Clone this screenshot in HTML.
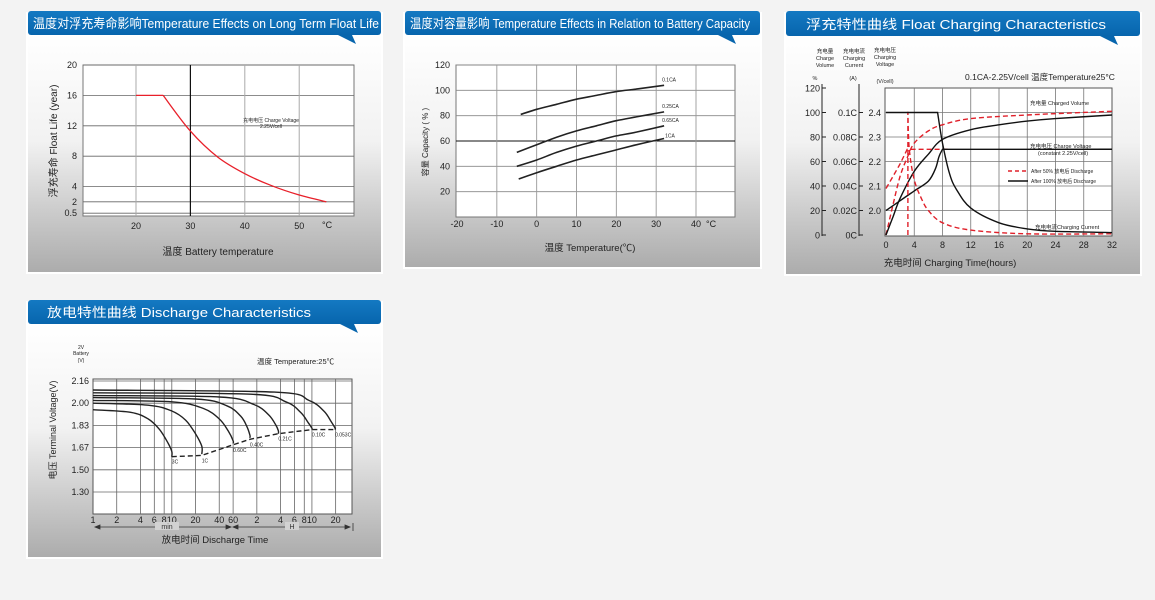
<!DOCTYPE html>
<html><head><meta charset="utf-8">
<style>
html,body{margin:0;padding:0;background:#f3f3f3;}
svg{display:block;font-family:"Liberation Sans","Noto Sans CJK SC",sans-serif;}
.tk{font-size:9px;fill:#222;}
.sm{font-size:5px;fill:#222;}
.hd{font-size:13px;fill:#fff;}
</style></head>
<body>
<svg id="root" width="1155" height="600" viewBox="0 0 1155 600" xmlns="http://www.w3.org/2000/svg">
<defs>
<linearGradient id="cardg" x1="0" y1="0" x2="0" y2="1">
<stop offset="0" stop-color="#ffffff"/><stop offset="0.45" stop-color="#f2f2f2"/><stop offset="0.75" stop-color="#cbcbcb"/><stop offset="1" stop-color="#acacac"/></linearGradient>
<linearGradient id="hdg" x1="0" y1="0" x2="0" y2="1">
<stop offset="0" stop-color="#1479c2"/><stop offset="1" stop-color="#0765ad"/></linearGradient>
</defs>
<!-- cards -->
<g>
<rect x="26" y="12" width="357" height="262" fill="#fff"/>
<rect x="28" y="34" width="353" height="238" fill="url(#cardg)"/>
<rect x="28" y="11" width="353" height="24" rx="3" fill="url(#hdg)"/>
<path d="M338,35 L352,35 L356,44 Z" fill="#0765ad"/>
<text class="hd" x="33" y="28" font-size="12" textLength="346" lengthAdjust="spacingAndGlyphs">温度对浮充寿命影响Temperature Effects on Long Term Float Life</text>
</g>
<g>
<rect x="403" y="12" width="359" height="257" fill="#fff"/>
<rect x="405" y="34" width="355" height="233" fill="url(#cardg)"/>
<rect x="405" y="11" width="355" height="24" rx="3" fill="url(#hdg)"/>
<path d="M718,35 L732,35 L736,44 Z" fill="#0765ad"/>
<text class="hd" x="410" y="28" font-size="12" textLength="340" lengthAdjust="spacingAndGlyphs">温度对容量影响 Temperature Effects in Relation to Battery Capacity</text>
</g>
<g>
<rect x="784" y="12" width="358" height="264" fill="#fff"/>
<rect x="786" y="34" width="354" height="240" fill="url(#cardg)"/>
<rect x="786" y="11" width="354" height="25" rx="3" fill="url(#hdg)"/>
<path d="M1100,36 L1114,36 L1118,45 Z" fill="#0765ad"/>
<text class="hd" x="806" y="29" font-size="14.5" textLength="300" lengthAdjust="spacingAndGlyphs">浮充特性曲线 Float Charging Characteristics</text>
</g>
<g>
<rect x="26" y="301" width="357" height="258" fill="#fff"/>
<rect x="28" y="323" width="353" height="234" fill="url(#cardg)"/>
<rect x="28" y="300" width="353" height="24" rx="3" fill="url(#hdg)"/>
<path d="M340,324 L354,324 L358,333 Z" fill="#0765ad"/>
<text class="hd" x="47" y="317" font-size="14.5" textLength="264" lengthAdjust="spacingAndGlyphs">放电特性曲线 Discharge Characteristics</text>
</g>

<g id="c1"></g>
<g id="c2"></g>
<g id="c3"></g>
<g id="c4"></g>

<!-- static titles -->
<text x="218" y="255" font-size="10" text-anchor="middle" fill="#222">温度  Battery temperature</text>
<text transform="translate(57,141) rotate(-90)" font-size="10" text-anchor="middle" fill="#222">浮充寿命  Float Life (year)</text>
<text x="271" y="122" class="sm" text-anchor="middle">充电电压 Charge Voltage</text>
<text x="271" y="128" class="sm" text-anchor="middle">2.25V/cell</text>
<text x="322" y="228" class="tk">°C</text>

<text x="590" y="251" font-size="9.5" text-anchor="middle" fill="#222">温度  Temperature(℃)</text>
<text transform="translate(428,142) rotate(-90)" font-size="8" text-anchor="middle" fill="#222">容量 Capacity ( % )</text>
<text x="706" y="227" class="tk">°C</text>

<text x="950" y="266" font-size="9.5" text-anchor="middle" fill="#222">充电时间 Charging Time(hours)</text>
<text x="965" y="80" font-size="8.5" fill="#222">0.1CA-2.25V/cell  温度Temperature25°C</text>
<g font-size="5.5" fill="#222" text-anchor="middle">
<text x="825" y="53">充电量</text><text x="825" y="60">Charge</text><text x="825" y="67">Volume</text><text x="815" y="80">%</text>
<text x="854" y="53">充电电流</text><text x="854" y="60">Charging</text><text x="854" y="67">Current</text><text x="853" y="80">(A)</text>
<text x="885" y="52">充电电压</text><text x="885" y="59">Charging</text><text x="885" y="66">Voltage</text><text x="885" y="83">(V/cell)</text>
</g>
<g font-size="5.5" fill="#222">
<text x="1030" y="105">充电量 Charged Volume</text>
<text x="1030" y="148">充电电压 Charge Voltage</text>
<text x="1038" y="155">(constant 2.25V/cell)</text>
<text x="1035" y="229">充电电流Charging Current</text>
</g>
<g>
<line x1="1008" y1="171" x2="1028" y2="171" stroke="#e0202a" stroke-width="1.4" stroke-dasharray="4,3"/>
<text x="1031" y="173" font-size="5" fill="#222">After 50% 放电后 Discharge</text>
<line x1="1008" y1="181" x2="1028" y2="181" stroke="#111" stroke-width="1.4"/>
<text x="1031" y="183" font-size="5" fill="#222">After 100% 放电后 Discharge</text>
</g>

<text x="215" y="543" font-size="9.5" text-anchor="middle" fill="#222">放电时间 Discharge Time</text>
<text transform="translate(56,430) rotate(-90)" font-size="9" text-anchor="middle" fill="#222">电压 Terminal Voltage(V)</text>
<g font-size="5" fill="#222" text-anchor="middle"><text x="81" y="349">2V</text><text x="81" y="355">Battery</text><text x="81" y="362">(V)</text></g>
<text x="257" y="364" font-size="7.5" fill="#222">温度 Temperature:25℃</text>
<g stroke="#333" stroke-width="0.8" fill="#333">
<line x1="95" y1="527" x2="231" y2="527"/><path d="M95,527 l5,-2 v4z"/><path d="M231,527 l-5,-2 v4z"/>
<line x1="233" y1="527" x2="350" y2="527"/><path d="M233,527 l5,-2 v4z"/><path d="M350,527 l-5,-2 v4z"/>
<line x1="353" y1="523" x2="353" y2="531"/>
</g>
<rect x="155" y="522" width="24" height="8" fill="#d2d2d2"/>
<text x="167" y="529" font-size="7" text-anchor="middle" fill="#333">min</text>
<rect x="285" y="522" width="14" height="8" fill="#d2d2d2"/>
<text x="292" y="529" font-size="7" text-anchor="middle" fill="#333">H</text>
</svg>

<script>
// ---------- Chart 1 data ----------
const c1Temps = [20, 25, 30, 35, 40, 45, 50, 55];
const c1Life = [16, 16, 11.3, 7.9, 5.7, 4.1, 2.9, 2.0];
const c1YTicks = [0.5, 2, 4, 8, 12, 16, 20];
const c1XTicks = [20, 30, 40, 50];
// ---------- Chart 2 data ----------
const c2Temps = [-4, 0, 5, 10, 15, 20, 25, 32];
const c2Cap01 = [81, 85, 89, 93, 96, 99, 101, 104];
const c2Temps25 = [-5, 0, 5, 10, 15, 20, 25, 32];
const c2Cap025 = [51, 57, 63, 68, 72, 76, 79, 83];
const c2Cap065 = [40, 45, 51, 56, 60, 64, 67, 72];
const c2Temps1 = [-4.5, 0, 5, 10, 15, 20, 25, 32];
const c2Cap1 = [30, 35, 40, 45, 49, 53, 57, 62];
const c2Labels = ["0.1CA", "0.25CA", "0.65CA", "1CA"];
const c2YTicks = [20, 40, 60, 80, 100, 120];
const c2XTicks = [-20, -10, 0, 10, 20, 30, 40];
// ---------- Chart 3 data (y in % of scale) ----------
const c3VolBlackH = [0, 1, 2, 4, 6, 8, 12, 16, 20, 24, 32];
const c3VolBlack = [0, 15, 30, 52, 66, 78, 86, 90, 93, 95, 98];
const c3VolRedH = [0, 1, 2, 3, 4, 6, 8, 12, 20, 32];
const c3VolRed = [0, 25, 48, 63, 75, 85, 90, 95, 98, 101];
const c3VoltBlackH = [0, 2, 4, 6, 7, 7.5, 8, 32];
const c3VoltBlack = [2.0, 2.04, 2.08, 2.12, 2.17, 2.22, 2.25, 2.25];
const c3VoltRedH = [0, 1, 2, 3, 9];
const c3VoltRed = [2.09, 2.14, 2.19, 2.25, 2.25];
const c3CurBlackH = [0, 7.3, 8, 9, 10, 12, 16, 20, 24, 32];
const c3CurBlack = [0.1, 0.1, 0.075, 0.05, 0.037, 0.022, 0.01, 0.005, 0.003, 0.002];
const c3CurRedH = [3.1, 3.3, 4, 5, 6, 8, 12, 20, 32];
const c3CurRed = [0.1, 0.07, 0.045, 0.03, 0.02, 0.01, 0.004, 0.001, 0.001];
const c3XTicks = [0, 4, 8, 12, 16, 20, 24, 28, 32];
const c3PctTicks = [0, 20, 40, 60, 80, 100, 120];
const c3CurTicks = ["0C", "0.02C", "0.04C", "0.06C", "0.08C", "0.1C"];
const c3VoltTicks = [2.0, 2.1, 2.2, 2.3, 2.4];
// ---------- Chart 4 data (time in minutes, volts) ----------
const c4Rates = ["3C", "1C", "0.60C", "0.40C", "0.21C", "0.10C", "0.053C"];
const c4T3C = [1, 3, 5, 7, 9, 10, 10];
const c4V3C = [1.95, 1.93, 1.88, 1.80, 1.70, 1.64, 1.60];
const c4T1C = [1, 5, 10, 15, 20, 24, 24];
const c4V1C = [2.0, 1.985, 1.94, 1.87, 1.77, 1.68, 1.62];
const c4T06 = [1, 10, 25, 40, 52, 60, 60];
const c4V06 = [2.02, 2.01, 1.96, 1.88, 1.79, 1.72, 1.70];
const c4T04 = [1, 20, 50, 75, 90, 98, 98];
const c4V04 = [2.04, 2.03, 1.98, 1.90, 1.82, 1.76, 1.74];
const c4T021 = [1, 40, 110, 170, 210, 225, 225];
const c4V021 = [2.055, 2.045, 1.99, 1.91, 1.83, 1.79, 1.77];
const c4T01 = [1, 100, 280, 430, 540, 600, 600];
const c4V01 = [2.075, 2.065, 2.01, 1.93, 1.85, 1.81, 1.80];
const c4T053 = [1, 200, 550, 850, 1050, 1180, 1180];
const c4V053 = [2.095, 2.08, 2.02, 1.94, 1.86, 1.81, 1.80];
const c4CutT = [10, 24, 60, 98, 225, 600, 1180];
const c4CutV = [1.60, 1.61, 1.69, 1.73, 1.77, 1.80, 1.80];
const c4YTicks = [1.30, 1.50, 1.67, 1.83, 2.00, 2.16];
const c4XTickMin = [1, 2, 4, 6, 8, 10, 20, 40, 60, 120, 240, 360, 480, 600, 1200];
const c4XTickLab = ["1", "2", "4", "6", "8", "10", "20", "40", "60", "2", "4", "6", "8", "10", "20"];

const NS = "http://www.w3.org/2000/svg";
function add(parent, tag, attrs, name) {
  const el = document.createElementNS(NS, tag);
  for (const k in attrs) el.setAttribute(k, attrs[k]);
  
  
  parent.appendChild(el);
  return el;
}
function lin(d0, d1, r0, r1) { return v => r0 + (v - d0) * (r1 - r0) / (d1 - d0); }
function smoothPath(xs, ys, sx, sy) {
  const p = xs.map((x, i) => [sx(x), sy(ys[i])]);
  let d = "M" + p[0][0].toFixed(1) + "," + p[0][1].toFixed(1);
  for (let i = 0; i < p.length - 1; i++) {
    const p0 = p[Math.max(0, i - 1)], p1 = p[i], p2 = p[i + 1], p3 = p[Math.min(p.length - 1, i + 2)];
    const c1x = p1[0] + (p2[0] - p0[0]) / 6, c1y = p1[1] + (p2[1] - p0[1]) / 6;
    const c2x = p2[0] - (p3[0] - p1[0]) / 6, c2y = p2[1] - (p3[1] - p1[1]) / 6;
    d += " C" + c1x.toFixed(1) + "," + c1y.toFixed(1) + " " + c2x.toFixed(1) + "," + c2y.toFixed(1) + " " + p2[0].toFixed(1) + "," + p2[1].toFixed(1);
  }
  return d;
}
function linePath(xs, ys, sx, sy) { return xs.map((x, i) => (i ? "L" : "M") + sx(x).toFixed(1) + "," + sy(ys[i]).toFixed(1)).join(" "); }
function text(parent, x, y, s, anchor, cls, name) {
  const t = add(parent, 'text', { x: x, y: y, 'text-anchor': anchor, class: cls }, name);
  t.textContent = s;
  return t;
}

// ---------- Chart 1 ----------
(function () {
  const g = document.getElementById('c1');
  const L = 83, R = 354, T = 65, B = 216;
  const x = lin(10.26, 60.07, L, R), y = lin(0, 20, 217, 65);
  add(g, 'rect', { x: L, y: T, width: R - L, height: B - T, fill: '#fff', stroke: '#777', 'stroke-width': 1 }, 'c1-plot-area');
  c1YTicks.forEach(v => {
    add(g, 'line', { x1: L, x2: R, y1: y(v), y2: y(v), stroke: '#666', 'stroke-width': 0.8 }, 'c1-grid-y');
    text(g, L - 6, y(v) + 3, String(v), 'end', 'tk', 'c1-y-tick');
  });
  c1XTicks.forEach(v => {
    add(g, 'line', { x1: x(v), x2: x(v), y1: T, y2: B, stroke: v === 30 ? '#111' : '#aaa', 'stroke-width': v === 30 ? 1.2 : 1 }, 'c1-grid-x');
    text(g, x(v), 229, String(v), 'middle', 'tk', 'c1-x-tick');
  });
  add(g, 'path', { d: smoothPath(c1Temps.slice(1), c1Life.slice(1), x, y) + " M" + x(c1Temps[0]) + "," + y(c1Life[0]) + " L" + x(c1Temps[1]) + "," + y(c1Life[1]), fill: 'none', stroke: '#e8202a', 'stroke-width': 1.3 }, 'c1-float-life-line');
})();

// ---------- Chart 2 ----------
(function () {
  const g = document.getElementById('c2');
  const L = 456, R = 735, T = 65, B = 217;
  const x = lin(-20, 40, 457, 696), y = lin(0, 120, 217, 65);
  add(g, 'rect', { x: L, y: T, width: R - L, height: B - T, fill: '#fff', stroke: '#777', 'stroke-width': 1 }, 'c2-plot-area');
  c2YTicks.forEach(v => {
    add(g, 'line', { x1: L, x2: R, y1: y(v), y2: y(v), stroke: v === 60 ? '#111' : '#888', 'stroke-width': v === 60 ? 1.1 : 0.8 }, 'c2-grid-y');
    text(g, L - 6, y(v) + 3, String(v), 'end', 'tk', 'c2-y-tick');
  });
  c2XTicks.forEach(v => {
    if (v > -20) add(g, 'line', { x1: x(v), x2: x(v), y1: T, y2: B, stroke: '#999', 'stroke-width': 0.9 }, 'c2-grid-x');
    text(g, x(v), 227, String(v), 'middle', 'tk', 'c2-x-tick');
  });
  const series = [[c2Temps, c2Cap01], [c2Temps25, c2Cap025], [c2Temps25, c2Cap065], [c2Temps1, c2Cap1]];
  series.forEach((s, i) => {
    add(g, 'path', { d: smoothPath(s[0], s[1], x, y), fill: 'none', stroke: '#222', 'stroke-width': 1.6 }, 'c2-line-' + c2Labels[i]);
    const lx = s[0][s[0].length - 1], ly = s[1][s[1].length - 1];
    text(g, x(lx) - 2 + (i === 3 ? 3 : 0), y(ly) - 4 + (i === 3 ? 3 : 0), c2Labels[i], 'start', 'sm', 'c2-label-' + c2Labels[i]).setAttribute('font-size', '7.5');
  });
})();

// ---------- Chart 3 ----------
(function () {
  const g = document.getElementById('c3');
  const L = 885, R = 1112, T = 88, B = 236;
  const x = lin(0, 32, 886, 1112), y = lin(0, 120, 235, 88);
  const yv = v => y((v - 1.9) * 200), yc = c => y(c * 1000);
  add(g, 'rect', { x: L, y: T, width: R - L, height: B - T, fill: '#fff', stroke: '#555', 'stroke-width': 1 }, 'c3-plot-area');
  c3VoltTicks.forEach(v => {
    add(g, 'line', { x1: L, x2: R, y1: yv(v), y2: yv(v), stroke: '#777', 'stroke-width': 0.8 }, 'c3-grid-y');
    text(g, L - 4, yv(v) + 3.5, v.toFixed(1), 'end', 'tk', 'c3-voltage-tick');
  });
  c3XTicks.forEach(v => {
    if (v > 0 && v < 32) add(g, 'line', { x1: x(v), x2: x(v), y1: T, y2: B, stroke: '#777', 'stroke-width': 0.8 }, 'c3-grid-x');
    text(g, x(v), 248, String(v), 'middle', 'tk', 'c3-x-tick');
  });
  add(g, 'line', { x1: 822, x2: 822, y1: 84, y2: 236, stroke: '#222', 'stroke-width': 1 }, 'c3-volume-axis');
  c3PctTicks.forEach(v => {
    add(g, 'line', { x1: 822, x2: 826, y1: y(v), y2: y(v), stroke: '#222' }, 'c3-volume-tick-mark');
    text(g, 820, y(v) + 3.5, String(v), 'end', 'tk', 'c3-volume-tick');
  });
  add(g, 'line', { x1: 859, x2: 859, y1: 84, y2: 236, stroke: '#222', 'stroke-width': 1 }, 'c3-current-axis');
  c3CurTicks.forEach((s, i) => {
    add(g, 'line', { x1: 859, x2: 863, y1: y(i * 20), y2: y(i * 20), stroke: '#222' }, 'c3-current-tick-mark');
    text(g, 857, y(i * 20) + 3.5, s, 'end', 'tk', 'c3-current-tick');
  });
  const red = { fill: 'none', stroke: '#e0202a', 'stroke-width': 1.4, 'stroke-dasharray': '5,3' };
  const blk = { fill: 'none', stroke: '#111', 'stroke-width': 1.4 };
  add(g, 'path', Object.assign({ d: smoothPath(c3VolRedH, c3VolRed, x, y) }, red), 'c3-red-charged-volume');
  add(g, 'path', Object.assign({ d: smoothPath(c3VolBlackH, c3VolBlack, x, y) }, blk), 'c3-black-charged-volume');
  add(g, 'path', Object.assign({ d: linePath(c3VoltRedH, c3VoltRed, x, yv) }, red), 'c3-red-voltage');
  add(g, 'path', Object.assign({ d: smoothPath(c3VoltBlackH.slice(0, 7), c3VoltBlack.slice(0, 7), x, yv) + " L" + x(c3VoltBlackH[7]) + "," + yv(c3VoltBlack[7]) }, blk), 'c3-black-voltage');
  add(g, 'path', Object.assign({ d: "M" + x(c3CurRedH[0]) + "," + y(0) + " L" + x(c3CurRedH[0]) + "," + yc(c3CurRed[0]) + " " + smoothPath(c3CurRedH, c3CurRed, x, yc).replace(/^M/, "L") }, red), 'c3-red-current');
  add(g, 'path', Object.assign({ d: "M" + x(c3CurBlackH[0]) + "," + yc(c3CurBlack[0]) + " " + smoothPath(c3CurBlackH.slice(1), c3CurBlack.slice(1), x, yc).replace(/^M/, "L") }, blk), 'c3-black-current');
})();

// ---------- Chart 4 ----------
(function () {
  const g = document.getElementById('c4');
  const L = 93, R = 352, T = 379, B = 514;
  const x = t => 93 + Math.log10(t) * 78.8;
  const tickPos = c4YTicks.map((v, i) => 492 - i * 22.2);
  const y = v => {
    let i = 0;
    while (i < c4YTicks.length - 2 && v > c4YTicks[i + 1]) i++;
    return lin(c4YTicks[i], c4YTicks[i + 1], tickPos[i], tickPos[i + 1])(v);
  };
  add(g, 'rect', { x: L, y: T, width: R - L, height: B - T, fill: '#fff', stroke: '#555', 'stroke-width': 1 }, 'c4-plot-area');
  c4YTicks.forEach(v => {
    add(g, 'line', { x1: L, x2: R, y1: y(v), y2: y(v), stroke: '#666', 'stroke-width': 0.8 }, 'c4-grid-y');
    text(g, L - 4, y(v) + 3, v.toFixed(2), 'end', 'tk', 'c4-y-tick').setAttribute('font-size', '8');
  });
  c4XTickMin.forEach((t, i) => {
    if (i > 0) add(g, 'line', { x1: x(t), x2: x(t), y1: T, y2: B, stroke: '#666', 'stroke-width': 0.8 }, 'c4-grid-x');
    text(g, x(t), 523, c4XTickLab[i], 'middle', 'tk', 'c4-x-tick').setAttribute('font-size', '8');
  });
  const curves = [[c4T3C, c4V3C], [c4T1C, c4V1C], [c4T06, c4V06], [c4T04, c4V04], [c4T021, c4V021], [c4T01, c4V01], [c4T053, c4V053]];
  curves.forEach((c, i) => {
    add(g, 'path', { d: smoothPath(c[0], c[1], x, y), fill: 'none', stroke: '#222', 'stroke-width': 1.4 }, 'c4-curve-' + c4Rates[i]);
  });
  add(g, 'path', { d: linePath(c4CutT, c4CutV, x, y), fill: 'none', stroke: '#222', 'stroke-width': 1.4, 'stroke-dasharray': '5,3' }, 'c4-cutoff-line');
  c4Rates.forEach((r, i) => {
    const t = text(g, x(c4CutT[i]), y(c4CutV[i]) + 7, r, 'start', 'sm', 'c4-rate-label-' + r);
    t.setAttribute('font-size', '4.5');
  });
})();
</script>
</body></html>
